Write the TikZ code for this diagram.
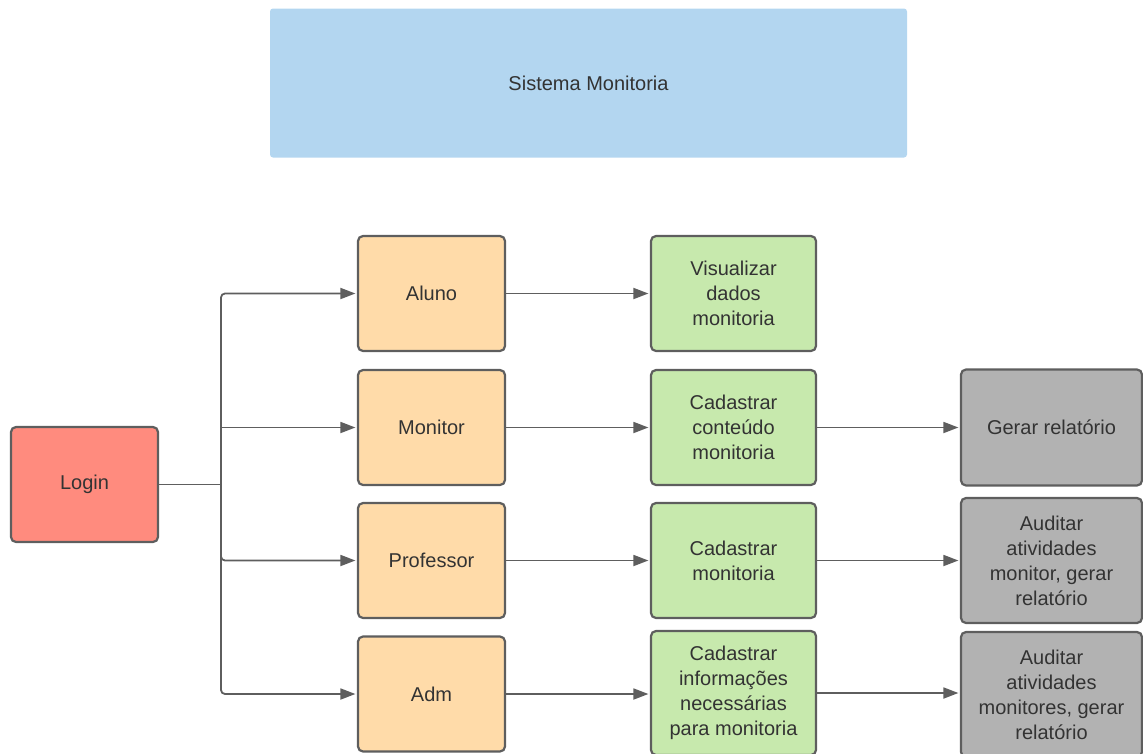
\documentclass[tikz,border=0pt]{standalone}
\usepackage{fontspec}
\setmainfont{Liberation Sans}
\usetikzlibrary{arrows.meta}
\definecolor{bord}{HTML}{5E5E5E}
\definecolor{txt}{HTML}{333333}
\definecolor{cblue}{HTML}{B3D6F0}
\definecolor{cred}{HTML}{FF8B7E}
\definecolor{corange}{HTML}{FFDBA9}
\definecolor{cgreen}{HTML}{C7E9AD}
\definecolor{cgrey}{HTML}{B2B2B2}
\tikzset{
  box/.style={draw=bord, line width=2.2pt, rounded corners=5pt, align=center,
    inner sep=0pt, text=txt, font=\fontsize{20}{25}\selectfont},
  rolebox/.style={box, fill=corange, minimum width=147pt, minimum height=115pt},
  actbox/.style={box, fill=cgreen, minimum width=165pt, minimum height=115pt},
  repbox/.style={box, fill=cgrey, minimum width=181pt},
  conn/.style={draw=bord, line width=1.8pt},
  arr/.style={conn, -{Triangle[length=15pt,width=11pt]}, shorten >=1.5pt},
}
\begin{document}
\begin{tikzpicture}[x=1pt,y=-1pt]
\useasboundingbox (0,0) rectangle (1143,753);
\node[fill=cblue, rounded corners=3pt, minimum width=637pt, minimum height=149pt,
  inner sep=0pt, text=txt, font=\fontsize{20}{25}\selectfont] (title) at (588.5,83) {Sistema Monitoria};

\node[box, fill=cred, minimum width=147pt, minimum height=115pt] (login) at (84.5,484.5) {Login};

\node[rolebox] (aluno) at (431.5,293.5) {Aluno};
\node[rolebox] (monitor) at (431.5,427.5) {Monitor};
\node[rolebox] (prof) at (431.5,560.5) {Professor};
\node[rolebox] (adm) at (431.5,694) {Adm};

\node[actbox] (visual) at (733.5,293.5) {Visualizar\\dados\\monitoria};
\node[actbox] (cadcont) at (733.5,427.5) {Cadastrar\\conteúdo\\monitoria};
\node[actbox] (cadmon) at (733.5,560.5) {Cadastrar\\monitoria};
\node[actbox, minimum height=124pt] (cadinfo) at (733.5,693) {Cadastrar\\informações\\necessárias\\para monitoria};

\node[repbox, minimum height=116pt] (gerar) at (1051.5,427.5) {Gerar relatório};
\node[repbox, minimum height=125pt] (aud1) at (1051.5,560.5) {Auditar\\atividades\\monitor, gerar\\relatório};
\node[repbox, minimum height=125pt] (aud2) at (1051.5,694.5) {Auditar\\atividades\\monitores, gerar\\relatório};

\coordinate (j) at (221,484.5);
\draw[conn] (login.east) -- (j);
\draw[arr, rounded corners=4pt] (j) |- (aluno.west);
\draw[arr] (j) |- (monitor.west);
\draw[arr, rounded corners=4pt] (j) |- (prof.west);
\draw[arr, rounded corners=4pt] (j) |- (adm.west);

\draw[arr] (aluno.east) -- (visual.west);
\draw[arr] (monitor.east) -- (cadcont.west);
\draw[arr] (prof.east) -- (cadmon.west);
\draw[arr] (adm.east) -- (adm.east -| cadinfo.west);

\draw[arr] (cadcont.east) -- (gerar.west);
\draw[arr] (cadmon.east) -- (aud1.west);
\draw[arr] (cadinfo.east) -- (cadinfo.east -| aud2.west);
\end{tikzpicture}
\end{document}
